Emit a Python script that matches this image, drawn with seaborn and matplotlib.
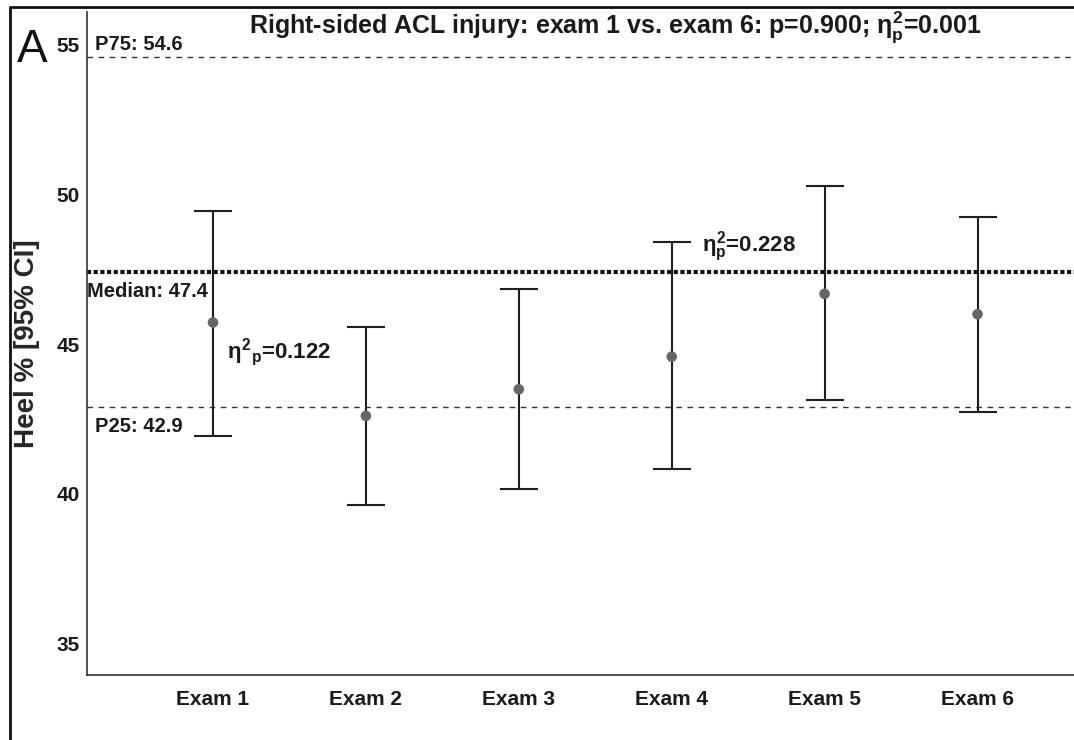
import matplotlib
matplotlib.use("Agg")
import matplotlib.pyplot as plt
from matplotlib.lines import Line2D
import seaborn as sns
import pandas as pd
import numpy as np

# Heel % per exam: mean with 95% CI bounds
exams = ["Exam 1", "Exam 2", "Exam 3", "Exam 4", "Exam 5", "Exam 6"]
means = [45.72, 42.60, 43.49, 44.58, 46.68, 46.00]
ci_low = [41.94, 39.62, 40.15, 40.82, 43.13, 42.72]
ci_high = [49.46, 45.58, 46.84, 48.41, 50.30, 49.26]

p75 = 54.6
median = 47.4
p25 = 42.9

sns.set_theme(style="white")
plt.rcParams["font.family"] = ["Liberation Sans", "DejaVu Sans"]
plt.rcParams["mathtext.fontset"] = "custom"
plt.rcParams["mathtext.rm"] = "Liberation Sans:bold"
plt.rcParams["mathtext.it"] = "Liberation Sans:bold"
plt.rcParams["mathtext.bf"] = "Liberation Sans:bold"

df = pd.DataFrame({"exam": exams, "mean": means, "lo": ci_low, "hi": ci_high})
df["pos"] = np.arange(len(df))

fig = plt.figure(figsize=(10.74, 7.40), dpi=100)
ax = fig.add_axes([87 / 1074, 1 - 675 / 740, 1 - 87 / 1074, (675 - 12) / 740])

# reference lines
ax.axhline(p75, color="#333333", lw=1.0, ls=(0, (4, 4)), zorder=1)
ax.axhline(p25, color="#333333", lw=1.0, ls=(0, (4, 4)), zorder=1)
ax.axhline(median, color="#111111", lw=3.0, ls=(0, (1, 0.6)), zorder=1)

# confidence intervals
ax.errorbar(df["pos"], df["mean"],
            yerr=[df["mean"] - df["lo"], df["hi"] - df["mean"]],
            fmt="none", ecolor="#1f1f1f", elinewidth=1.5, capsize=13.5,
            capthick=1.5, zorder=2)
sns.scatterplot(data=df, x="pos", y="mean", ax=ax, color="#666666", s=58,
                edgecolor="none", zorder=3, legend=False)

ax.set_xlim(-0.824, 5.631)
ax.set_ylim(33.94, 56.10)
ax.set_yticks([35, 40, 45, 50, 55])
ax.set_xticks(df["pos"])
ax.set_xticklabels(exams)
ax.set_xlabel("")
ax.set_ylabel("Heel % [95% CI]", fontsize=20, fontweight="bold", labelpad=12)
ax.tick_params(axis="both", length=0, labelsize=15)
ax.tick_params(axis="x", pad=11)
ax.tick_params(axis="y", pad=5)
for lab in ax.get_xticklabels() + ax.get_yticklabels():
    lab.set_fontweight("bold")
    lab.set_color("#1a1a1a")

for side in ["top", "right"]:
    ax.spines[side].set_visible(False)
for side in ["left", "bottom"]:
    ax.spines[side].set_color("#333333")
    ax.spines[side].set_linewidth(1.2)

# line labels
ax.text(-0.772, p75 + 0.23, f"P75: {p75}", fontsize=14.5, fontweight="bold",
        color="#1a1a1a", va="baseline", ha="left")
ax.text(-0.822, median - 0.83, f"Median: {median}", fontsize=14.5,
        fontweight="bold", color="#1a1a1a", va="baseline", ha="left")
ax.text(-0.772, p25 - 0.83, f"P25: {p25}", fontsize=14.5, fontweight="bold",
        color="#1a1a1a", va="baseline", ha="left")

# effect sizes
ax.text(0.09, 44.53, r"$\eta^{2}{}_{p}$=0.122", fontsize=16, fontweight="bold",
        color="#1a1a1a", va="baseline", ha="left")
ax.text(3.2, 48.08, r"$\eta_{p}^{2}$=0.228", fontsize=16, fontweight="bold",
        color="#1a1a1a", va="baseline", ha="left")

fig.text(615 / 1074, 1 - 33 / 740,
         r"Right-sided ACL injury: exam 1 vs. exam 6: p=0.900; $\eta_{p}^{2}$=0.001",
         fontsize=18, fontweight="bold", color="#1a1a1a", ha="center", va="baseline")
fig.text(17 / 1074, 1 - 62 / 740, "A", fontsize=33, color="#111111",
         ha="left", va="baseline", fontweight="normal")

# panel frame
fig.add_artist(Line2D([10 / 1074, 1.0], [1 - 7 / 740, 1 - 7 / 740],
                      transform=fig.transFigure, color="#111111", lw=2))
fig.add_artist(Line2D([10 / 1074, 10 / 1074], [0.0, 1 - 7 / 740],
                      transform=fig.transFigure, color="#111111", lw=2))

fig.savefig("out.png", dpi=100)
